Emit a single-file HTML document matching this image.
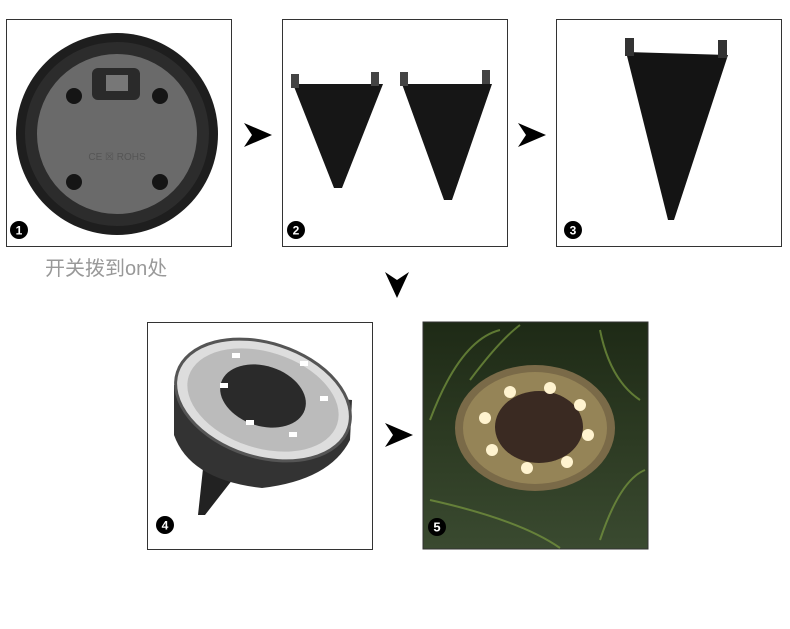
<!DOCTYPE html>
<html><head><meta charset="utf-8"><style>
body{margin:0;background:#fff;width:790px;height:624px;overflow:hidden;font-family:"Liberation Sans","Noto Sans CJK SC",sans-serif}
</style></head><body>
<svg width="790" height="624" viewBox="0 0 790 624" xmlns="http://www.w3.org/2000/svg">
<defs>
<linearGradient id="grass" x1="0" y1="0" x2="0" y2="1"><stop offset="0" stop-color="#1e2a16"/><stop offset="0.5" stop-color="#2c3a22"/><stop offset="1" stop-color="#3a4a30"/></linearGradient>
</defs>
<!-- box 1 -->
<rect x="6.5" y="19.5" width="225" height="227" fill="#fff" stroke="#333"/>
<circle cx="117" cy="134" r="101" fill="#1e1e1e"/>
<circle cx="117" cy="134" r="92" fill="#2c2c2c"/>
<circle cx="117" cy="134" r="80" fill="#6a6a6a"/>
<rect x="92" y="68" width="48" height="32" rx="6" fill="#2a2a2a"/>
<rect x="106" y="75" width="22" height="16" fill="#777"/>
<circle cx="74" cy="96" r="8" fill="#151515"/><circle cx="160" cy="96" r="8" fill="#151515"/>
<circle cx="74" cy="182" r="8" fill="#151515"/><circle cx="160" cy="182" r="8" fill="#151515"/>
<text x="117" y="160" font-size="10" fill="#555" text-anchor="middle">CE ☒ ROHS</text>
<circle cx="19" cy="230" r="9" fill="#000"/><text x="19" y="234.5" font-size="12" font-weight="bold" fill="#fff" text-anchor="middle">1</text>
<text x="45" y="275" font-size="20" fill="#999">开关拨到on处</text>
<!-- arrows -->
<polygon points="244,123 272,135 244,147 252,135" fill="#000"/>
<polygon points="518,123 546,135 518,147 526,135" fill="#000"/>
<polygon points="385,272 397,298 409,272 397,280" fill="#000"/>
<polygon points="385,423 413,435 385,447 393,435" fill="#000"/>
<!-- box 2 -->
<rect x="282.5" y="19.5" width="225" height="227" fill="#fff" stroke="#333"/>
<polygon points="293,84 383,84 342,188 334,188" fill="#161616"/>
<rect x="291" y="74" width="8" height="14" fill="#444"/><rect x="371" y="72" width="8" height="14" fill="#444"/>
<polygon points="402,84 492,84 452,200 444,200" fill="#161616"/>
<rect x="400" y="72" width="8" height="14" fill="#444"/><rect x="482" y="70" width="8" height="14" fill="#444"/>
<circle cx="296" cy="230" r="9" fill="#000"/><text x="296" y="234.5" font-size="12" font-weight="bold" fill="#fff" text-anchor="middle">2</text>
<!-- box 3 -->
<rect x="556.5" y="19.5" width="225" height="227" fill="#fff" stroke="#333"/>
<polygon points="626,52 728,55 674,220 668,220" fill="#141414"/>
<rect x="625" y="38" width="9" height="18" fill="#333"/><rect x="718" y="40" width="9" height="18" fill="#333"/>
<circle cx="573" cy="230" r="9" fill="#000"/><text x="573" y="234.5" font-size="12" font-weight="bold" fill="#fff" text-anchor="middle">3</text>
<!-- box 4 -->
<rect x="147.5" y="322.5" width="225" height="227" fill="#fff" stroke="#333"/>
<polygon points="205,450 240,470 205,515 198,515" fill="#222"/>
<path d="M174,385 L174,435 Q190,480 262,488 Q330,480 350,440 L352,400 Z" fill="#333"/>
<ellipse cx="263" cy="400" rx="90" ry="57" transform="rotate(18 263 400)" fill="#ddd" stroke="#555" stroke-width="3"/>
<ellipse cx="263" cy="400" rx="78" ry="48" transform="rotate(18 263 400)" fill="#bbb"/>
<ellipse cx="263" cy="396" rx="44" ry="30" transform="rotate(18 263 396)" fill="#2a2a2a"/>
<g fill="#fff"><rect x="232" y="353" width="8" height="5"/><rect x="300" y="361" width="8" height="5"/><rect x="320" y="396" width="8" height="5"/><rect x="220" y="383" width="8" height="5"/><rect x="246" y="420" width="8" height="5"/><rect x="289" y="432" width="8" height="5"/></g>
<circle cx="165" cy="525" r="9" fill="#000"/><text x="165" y="529.5" font-size="12" font-weight="bold" fill="#fff" text-anchor="middle">4</text>
<!-- box 5 -->
<rect x="423" y="322" width="225" height="227" fill="url(#grass)" stroke="#333"/>
<g stroke="#7a9a40" stroke-width="2" opacity="0.7" fill="none">
<path d="M430,420 Q460,340 500,330"/><path d="M470,380 Q500,340 520,325"/><path d="M600,330 Q610,380 640,400"/><path d="M430,500 Q520,520 560,548"/><path d="M600,540 Q620,480 645,470"/>
</g>
<ellipse cx="535" cy="428" rx="80" ry="63" fill="#7a6a48"/>
<ellipse cx="535" cy="428" rx="72" ry="56" fill="#958457"/>
<ellipse cx="539" cy="427" rx="44" ry="36" fill="#3a2a22"/>
<g fill="#fff3cf">
<circle cx="510" cy="392" r="6"/><circle cx="550" cy="388" r="6"/><circle cx="580" cy="405" r="6"/><circle cx="485" cy="418" r="6"/><circle cx="588" cy="435" r="6"/><circle cx="492" cy="450" r="6"/><circle cx="527" cy="468" r="6"/><circle cx="567" cy="462" r="6"/>
</g>
<circle cx="437" cy="527" r="9" fill="#000"/><text x="437" y="531.5" font-size="13" font-weight="bold" fill="#fff" text-anchor="middle">5</text>
</svg>
</body></html>
